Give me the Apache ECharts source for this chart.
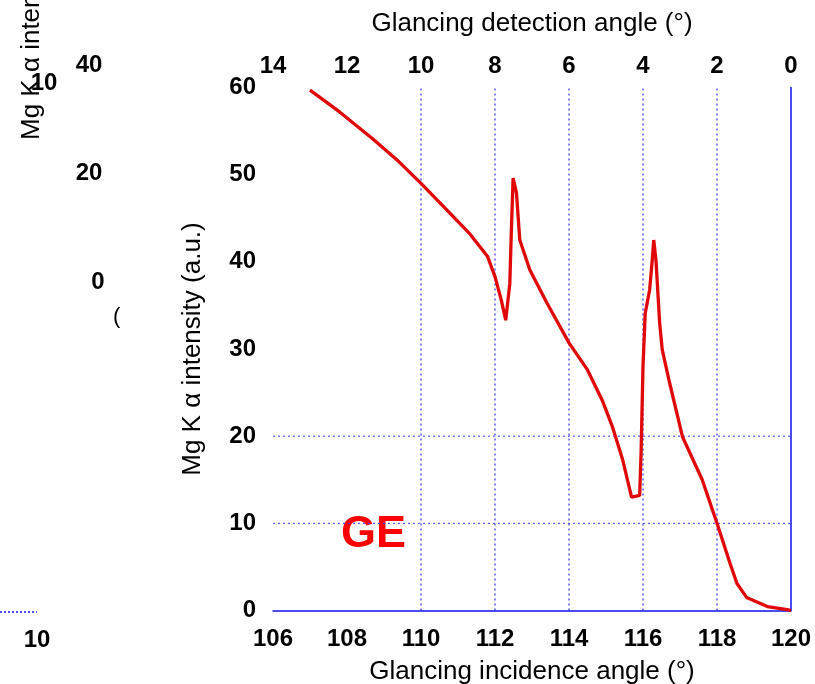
<!DOCTYPE html>
<html>
<head>
<meta charset="utf-8">
<script src="https://cdn.jsdelivr.net/npm/echarts@6/dist/echarts.min.js"></script>
<style>
html,body{margin:0;padding:0;background:#fff;}
#chart{width:815px;height:684px;}
</style>
</head>
<body>
<div id="chart"></div>
<script>
// Glancing incidence angle (deg)
const incidenceAngle = [107.0, 107.8, 108.7, 109.4, 110.0, 110.8, 111.3, 111.8, 112.0, 112.17, 112.29, 112.4, 112.44, 112.49, 112.58, 112.67, 112.94, 113.4, 114.0, 114.5, 114.9, 115.18, 115.45, 115.69, 115.91, 115.95, 116.0, 116.06, 116.18, 116.25, 116.29, 116.35, 116.45, 116.52, 116.72, 117.07, 117.6, 118.0, 118.36, 118.54, 118.8, 119.36, 119.9, 120.0];
// Mg K alpha intensity (a.u.)
const intensity = [59.7, 57.2, 54.1, 51.5, 49.0, 45.5, 43.3, 40.6, 38.3, 35.6, 33.3, 37.5, 43.3, 49.6, 47.9, 42.5, 39.1, 35.3, 30.7, 27.6, 24.1, 21.0, 17.3, 13.0, 13.2, 18.4, 28.0, 34.1, 36.8, 40.2, 42.5, 40.2, 33.0, 29.9, 26.1, 19.9, 15.0, 10.0, 5.3, 3.1, 1.5, 0.45, 0.1, 0.0];
const xGridLines = [110, 112, 114, 116, 118];
const yGridLines = [10, 20];
const xTitle = 'Glancing incidence angle (°)';
const topTitle = 'Glancing detection angle (°)';
const yTitle = 'Mg K α intensity (a.u.)';
const panelLabel = 'GE';

const FONT = "'Liberation Sans', Arial, sans-serif";
const chart = echarts.init(document.getElementById('chart'));
const pts = incidenceAngle.map((x, i) => [x, intensity[i]]);
const labelStyle = {color: '#000', fontSize: 24, fontWeight: 'bold', fontFamily: FONT};
const nameStyle = {color: '#000', fontSize: 26, fontFamily: FONT};
const vGrid = {color: '#0a0aee', type: [2, 3], width: 1};
const hGrid = {color: '#3a3af0', type: [2, 3], width: 1};

const gridSeries = xGridLines.map(v => ({
  type: 'line', data: [[v, 0], [v, 60]], showSymbol: false, silent: true,
  lineStyle: vGrid, z: 1
})).concat(yGridLines.map(v => ({
  type: 'line', data: [[106, v], [120, v]], showSymbol: false, silent: true,
  lineStyle: hGrid, z: 1
})));

chart.setOption({
  animation: false,
  backgroundColor: '#fff',
  grid: {left: 273, right: 24, top: 87.5, bottom: 73.5, outerBoundsMode: 'none', containLabel: false},
  xAxis: [{
    type: 'value', min: 106, max: 120, interval: 2, position: 'bottom',
    axisLine: {show: true, lineStyle: {color: '#1010ee', width: 1.5}},
    axisTick: {show: false}, splitLine: {show: false},
    axisLabel: Object.assign({margin: 17}, labelStyle),
    name: xTitle, nameLocation: 'middle', nameGap: 48, nameTextStyle: nameStyle
  }, {
    type: 'value', min: 0, max: 14, interval: 2, position: 'top', inverse: true,
    axisLine: {show: false}, axisTick: {show: false}, splitLine: {show: false},
    axisLabel: Object.assign({margin: 9}, labelStyle),
    name: topTitle, nameLocation: 'middle', nameGap: 51, nameTextStyle: nameStyle
  }],
  yAxis: [{
    type: 'value', min: 0, max: 60, interval: 10, position: 'left',
    axisLine: {show: false}, axisTick: {show: false}, splitLine: {show: false},
    axisLabel: Object.assign({margin: 17}, labelStyle),
    name: yTitle, nameLocation: 'middle', nameGap: 67, nameRotate: 90, nameTextStyle: nameStyle
  }, {
    type: 'value', min: 0, max: 60, position: 'right',
    axisLine: {show: true, lineStyle: {color: '#1010ee', width: 1.5}},
    axisTick: {show: false}, axisLabel: {show: false}, splitLine: {show: false}
  }],
  series: gridSeries.concat([{
    type: 'line', data: pts, xAxisIndex: 0, yAxisIndex: 0,
    showSymbol: false, smooth: false,
    lineStyle: {color: '#e00808', width: 3.3},
    z: 5
  }]),
  graphic: [
    {type: 'text', left: 341, top: 512, style: {text: panelLabel, fill: '#ff0000', font: 'bold 45px ' + FONT}},
    // cropped fragments of the neighbouring panel
    {type: 'text', x: 32, y: 140, rotation: Math.PI / 2, style: {text: yTitle, fill: '#000', font: '26px ' + FONT, align: 'left', verticalAlign: 'middle'}},
    {type: 'text', x: 44, y: 83, style: {text: '10', fill: '#000', font: 'bold 24px ' + FONT, align: 'center', verticalAlign: 'middle'}},
    {type: 'text', x: 89, y: 65, style: {text: '40', fill: '#000', font: 'bold 24px ' + FONT, align: 'center', verticalAlign: 'middle'}},
    {type: 'text', x: 89, y: 173, style: {text: '20', fill: '#000', font: 'bold 24px ' + FONT, align: 'center', verticalAlign: 'middle'}},
    {type: 'text', x: 98, y: 282, style: {text: '0', fill: '#000', font: 'bold 24px ' + FONT, align: 'center', verticalAlign: 'middle'}},
    {type: 'text', x: 113, y: 317, style: {text: '(', fill: '#000', font: '22px ' + FONT, align: 'left', verticalAlign: 'middle'}},
    {type: 'line', shape: {x1: 0, y1: 612, x2: 37, y2: 612}, style: {stroke: '#1a1ae0', lineWidth: 1.5, lineDash: [2, 2]}},
    {type: 'text', x: 37, y: 640, style: {text: '10', fill: '#000', font: 'bold 24px ' + FONT, align: 'center', verticalAlign: 'middle'}}
  ]
});
</script>
</body>
</html>
